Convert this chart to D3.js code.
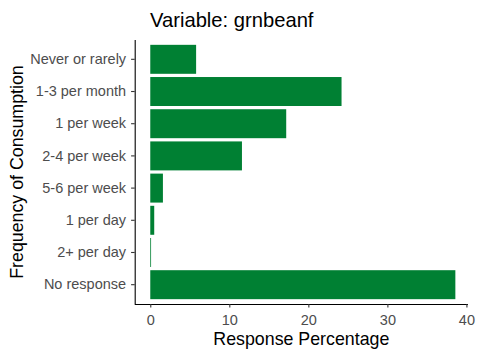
<!DOCTYPE html>
<html><head><meta charset="utf-8">
<script src="https://cdn.jsdelivr.net/npm/d3@7"></script>
<style>body{margin:0;background:#fff}svg{display:block}text{font-family:"Liberation Sans",Arial,sans-serif}</style>
</head><body>
<script>
const categories = ["Never or rarely","1-3 per month","1 per week","2-4 per week","5-6 per week","1 per day","2+ per day","No response"];
const values = [5.8, 24.2, 17.2, 11.6, 1.6, 0.5, 0.1, 38.6];
const xTicks = [0, 10, 20, 30, 40];
const title = "Variable: grnbeanf";
const xTitle = "Response Percentage";
const yTitle = "Frequency of Consumption";

const W = 480, H = 360;
const pL = 134.7, pR = 468, pT = 40, pB = 304;
const svg = d3.select("body").append("svg").attr("width", W).attr("height", H);

const x = d3.scaleLinear().domain([-1.97, 40.2]).range([pL, pR]);
const y = d3.scaleBand().domain(categories).range([pT, pB]).paddingInner(0.1).paddingOuter(0.15);

svg.append("g").selectAll("rect").data(values).join("rect")
  .attr("x", d => x(0))
  .attr("y", (d, i) => y(categories[i]))
  .attr("width", d => x(d) - x(0))
  .attr("height", y.bandwidth())
  .attr("fill", "#008033");

const xAxis = svg.append("g").attr("transform", `translate(0,${pB})`)
  .call(d3.axisBottom(x).tickValues(xTicks).tickSize(3.6).tickPadding(7.4).tickFormat(d3.format("d")));
const yAxis = svg.append("g").attr("transform", `translate(${pL},0)`)
  .call(d3.axisLeft(y).tickSize(3.6).tickPadding(5));
[xAxis, yAxis].forEach(a => {
  a.select(".domain").attr("stroke", "#000").attr("stroke-width", 1.1);
  a.selectAll(".tick line").attr("stroke", "#333").attr("stroke-width", 1.1);
  a.selectAll(".tick text").attr("fill", "#4D4D4D").style("font-size", "14.5px");
});
xAxis.select(".domain").attr("d", `M${pL},0.5H${pR}`);
yAxis.select(".domain").attr("d", `M0.5,${pT}V${pB}`);

svg.append("text").attr("x", 150).attr("y", 27).style("font-size", "20.2px").attr("fill", "#000").text(title);
svg.append("text").attr("x", (pL + pR) / 2).attr("y", 345).attr("text-anchor", "middle").style("font-size", "17.8px").attr("fill", "#000").text(xTitle);
svg.append("text").attr("transform", `translate(23,${(pT + pB) / 2}) rotate(-90)`).attr("text-anchor", "middle").style("font-size", "17.8px").attr("fill", "#000").text(yTitle);
</script>
</body></html>
